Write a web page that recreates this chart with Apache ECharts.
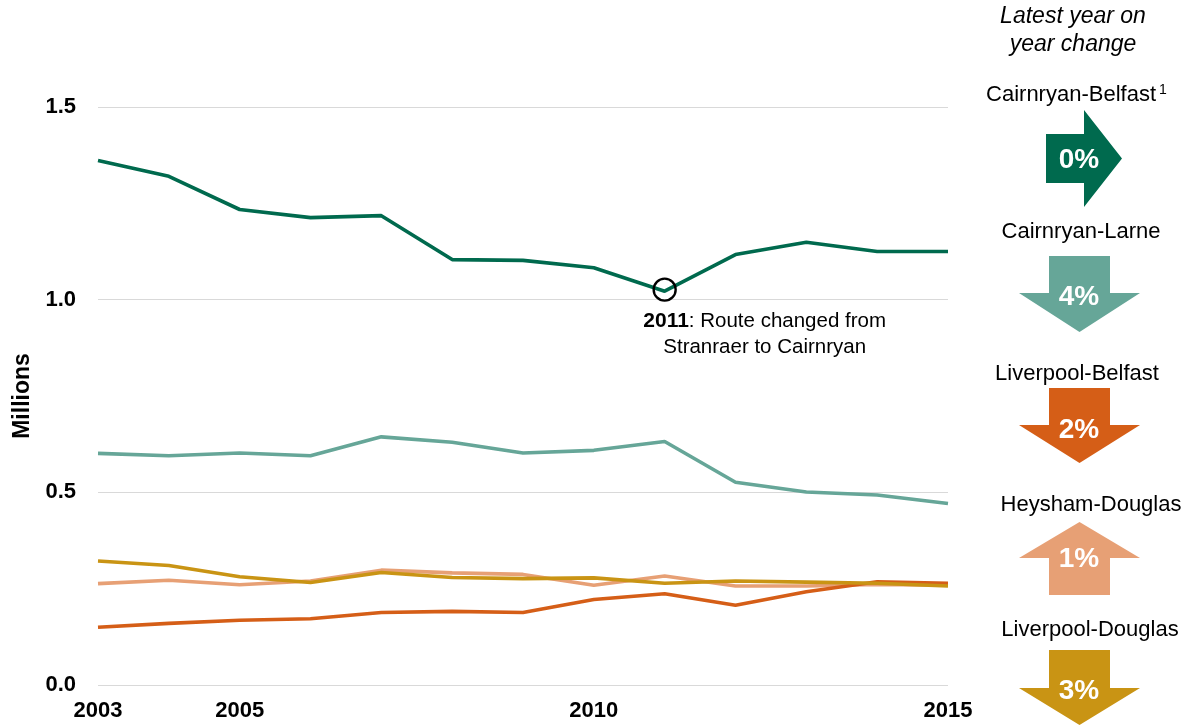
<!DOCTYPE html>
<html>
<head>
<meta charset="utf-8">
<script src="https://cdn.jsdelivr.net/npm/echarts@6/dist/echarts.min.js"></script>
<style>
html,body{margin:0;padding:0;background:#fff;}
#chart{width:1189px;height:726px;}
</style>
</head>
<body>
<div id="chart"></div>
<script>
// ---- data ----
const years = ['2003','2004','2005','2006','2007','2008','2009','2010','2011','2012','2013','2014','2015'];
const xTickLabels = ['2003','2005','2010','2015'];
const yTicks = [0, 0.5, 1.0, 1.5];
const cairnryanBelfast = [1.361, 1.320, 1.234, 1.213, 1.218, 1.104, 1.102, 1.083, 1.022, 1.117, 1.149, 1.125, 1.125];
const cairnryanLarne   = [0.601, 0.595, 0.602, 0.595, 0.644, 0.630, 0.602, 0.609, 0.632, 0.526, 0.501, 0.493, 0.471];
const liverpoolBelfast = [0.150, 0.160, 0.168, 0.172, 0.188, 0.191, 0.188, 0.222, 0.237, 0.207, 0.242, 0.268, 0.264];
const heyshamDouglas   = [0.263, 0.272, 0.260, 0.270, 0.298, 0.291, 0.287, 0.259, 0.283, 0.257, 0.257, 0.261, 0.259];
const liverpoolDouglas = [0.322, 0.310, 0.281, 0.266, 0.292, 0.279, 0.276, 0.278, 0.264, 0.270, 0.267, 0.264, 0.257];
const routeNames = ['Cairnryan-Belfast','Cairnryan-Larne','Liverpool-Belfast','Heysham-Douglas','Liverpool-Douglas'];
const changeText = ['0%','4%','2%','1%','3%'];
const changeDir  = ['right','down','down','up','down'];
const annotationYear = '2011';

// ---- style ----
const colors = {
  'Cairnryan-Belfast':'#006A4E',
  'Cairnryan-Larne':'#66A698',
  'Liverpool-Belfast':'#D55E17',
  'Heysham-Douglas':'#E7A075',
  'Liverpool-Douglas':'#C99414'
};
const FONT = "'Liberation Sans', Arial, sans-serif";
const seriesData = {
  'Cairnryan-Belfast': cairnryanBelfast,
  'Cairnryan-Larne': cairnryanLarne,
  'Liverpool-Belfast': liverpoolBelfast,
  'Heysham-Douglas': heyshamDouglas,
  'Liverpool-Douglas': liverpoolDouglas
};
const drawOrder = ['Cairnryan-Belfast','Cairnryan-Larne','Heysham-Douglas','Liverpool-Belfast','Liverpool-Douglas'];

const series = drawOrder.map(name => {
  const s = {
    name, type:'line', data: seriesData[name], showSymbol:false, symbol:'none',
    lineStyle:{color:colors[name], width:3.6}, itemStyle:{color:colors[name]},
    silent:true, animation:false
  };
  if (name === 'Cairnryan-Belfast') {
    const idx = years.indexOf(annotationYear);
    s.markPoint = {
      silent:true, animation:false,
      symbol:'circle', symbolSize:22,
      itemStyle:{color:'rgba(0,0,0,0)', borderColor:'#000', borderWidth:2.4},
      label:{
        show:true, position:'bottom', distance:6, offset:[100,0],
        align:'center', lineHeight:26, fontFamily:FONT,
        formatter:'{b|' + annotationYear + '}{n|: Route changed from}\n{n|Stranraer to Cairnryan}',
        rich:{
          b:{fontWeight:'bold', fontSize:21, color:'#000', fontFamily:FONT, lineHeight:26},
          n:{fontSize:20.5, color:'#000', fontFamily:FONT, lineHeight:26}
        }
      },
      data:[{coord:[annotationYear, cairnryanBelfast[idx] + 0.004]}]
    };
  }
  return s;
});

// ---- right panel (arrows) ----
const panelLabelY = [95, 232, 374, 505, 630];
const panelLabelX = [1156, 1081, 1077, 1091, 1090];
const arrowGeom = [
  {x0:1046, x1:1084, tip:1122, cy:158.5, bodyH:49, headH:97},
  {top:256, bb:293, tip:332},
  {top:388, bb:425, tip:463},
  {tip:522, hb:558, bottom:595},
  {top:650, bb:688, tip:725}
];
const pctPos = [[1079,160],[1079,297],[1079,430],[1079,559],[1079,691]];
const acx = 1079.5, bw = 30.5, hw = 60.5;

const graphics = [];
graphics.push({type:'text', x:1073, y:17, style:{text:'Latest year on', fill:'#000', font:'italic 23px ' + FONT, textAlign:'center', textVerticalAlign:'middle'}, silent:true});
graphics.push({type:'text', x:1073, y:45, style:{text:'year change', fill:'#000', font:'italic 23px ' + FONT, textAlign:'center', textVerticalAlign:'middle'}, silent:true});

routeNames.forEach((name, i) => {
  const col = colors[name];
  if (i === 0) {
    graphics.push({type:'text', x:panelLabelX[i], y:panelLabelY[i], style:{text:name, fill:'#000', font:'22px ' + FONT, textAlign:'right', textVerticalAlign:'middle'}, silent:true});
    graphics.push({type:'text', x:panelLabelX[i] + 3, y:panelLabelY[i] - 5, style:{text:'1', fill:'#000', font:'14px ' + FONT, textAlign:'left', textVerticalAlign:'middle'}, silent:true});
  } else {
    graphics.push({type:'text', x:panelLabelX[i], y:panelLabelY[i], style:{text:name, fill:'#000', font:'22px ' + FONT, textAlign:'center', textVerticalAlign:'middle'}, silent:true});
  }
  const g = arrowGeom[i];
  let pts;
  if (changeDir[i] === 'right') {
    const by0 = g.cy - g.bodyH/2, by1 = g.cy + g.bodyH/2, hy0 = g.cy - g.headH/2, hy1 = g.cy + g.headH/2;
    pts = [[g.x0,by0],[g.x1,by0],[g.x1,hy0],[g.tip,g.cy],[g.x1,hy1],[g.x1,by1],[g.x0,by1]];
  } else if (changeDir[i] === 'down') {
    pts = [[acx-bw,g.top],[acx+bw,g.top],[acx+bw,g.bb],[acx+hw,g.bb],[acx,g.tip],[acx-hw,g.bb],[acx-bw,g.bb]];
  } else {
    pts = [[acx,g.tip],[acx+hw,g.hb],[acx+bw,g.hb],[acx+bw,g.bottom],[acx-bw,g.bottom],[acx-bw,g.hb],[acx-hw,g.hb]];
  }
  graphics.push({type:'polygon', shape:{points:pts}, style:{fill:col}, silent:true});
  graphics.push({type:'text', x:pctPos[i][0], y:pctPos[i][1], style:{text:changeText[i], fill:'#fff', font:'bold 28px ' + FONT, textAlign:'center', textVerticalAlign:'middle'}, silent:true});
});

const chart = echarts.init(document.getElementById('chart'), null, {renderer:'canvas'});
chart.setOption({
  animation:false,
  backgroundColor:'#fff',
  grid:{left:98, right:241, top:107, bottom:41, containLabel:false},
  xAxis:{
    type:'category', data:years, boundaryGap:false,
    axisLine:{show:false}, axisTick:{show:false},
    axisLabel:{
      interval:(idx, val) => xTickLabels.includes(val),
      color:'#000', fontWeight:'bold', fontSize:22, fontFamily:FONT, margin:15
    },
    splitLine:{show:false}
  },
  yAxis:{
    type:'value', min:yTicks[0], max:yTicks[yTicks.length-1], interval:0.5,
    name:'Millions', nameLocation:'middle', nameRotate:90, nameGap:64,
    nameTextStyle:{color:'#000', fontWeight:'bold', fontSize:23, fontFamily:FONT},
    axisLine:{show:false}, axisTick:{show:false},
    axisLabel:{formatter:v => v.toFixed(1), color:'#000', fontWeight:'bold', fontSize:22, fontFamily:FONT, margin:22},
    splitLine:{show:true, lineStyle:{color:'#D9D9D9', width:1}}
  },
  series,
  graphic:graphics
});
</script>
</body>
</html>
